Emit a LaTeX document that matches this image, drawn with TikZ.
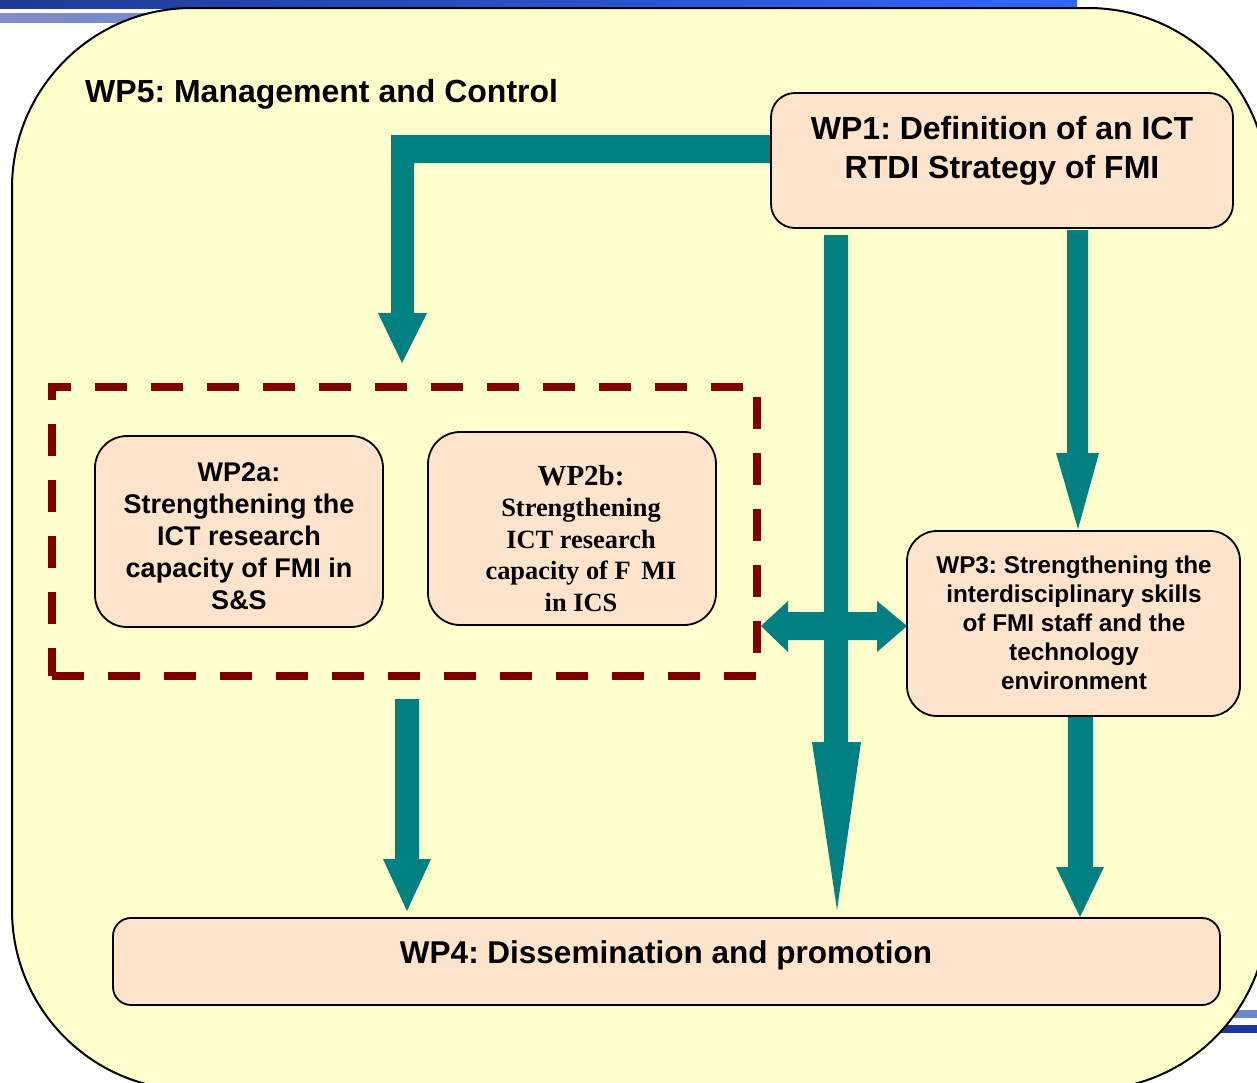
\documentclass[tikz,border=0pt]{standalone}
\usepackage{fontspec}
\setmainfont{Liberation Sans}
\newfontfamily\serifbf{Liberation Serif}
\definecolor{bgyellow}{HTML}{FFFFCC}
\definecolor{boxfill}{HTML}{FFE4CC}
\definecolor{dashred}{HTML}{800000}
\definecolor{arrowteal}{HTML}{008080}
\definecolor{bardark}{HTML}{1F3A93}
\definecolor{barbright}{HTML}{3366FF}
\definecolor{barlight}{HTML}{7F8FC4}
\definecolor{barlighttwo}{HTML}{6F86CC}
\frenchspacing
\begin{document}
\begin{tikzpicture}[x=1pt,y=-1pt,
  wpbox/.style={draw=black, line width=1.8pt, fill=boxfill, rounded corners=#1, inner sep=0pt},
  wptext/.style={inner sep=0pt, align=center, text=black},
  fatarrow/.style={fill=arrowteal, draw=none}]
\useasboundingbox (0,0) rectangle (1257,1082);
\clip (0,0) rectangle (1257,1082);
\fill[white] (0,0) rectangle (1257,1082);
% decorative bars
\shade[left color=bardark, right color=barbright] (0,0) rectangle (1077,8);
\shade[left color=barlight, right color=barlighttwo] (0,13) rectangle (220,22);
\fill[barlighttwo] (1220,1010) rectangle (1257,1018);
\fill[bardark!90!blue] (1215,1025) rectangle (1257,1033);
% WP5 frame
\draw[fill=bgyellow, line width=2pt, rounded corners=180pt] (12,8) rectangle (1268,1090);
\node[wptext, anchor=base west, font=\bfseries\fontsize{32}{38}\selectfont] (wp5) at (85,102) {WP5: Management and Control};
% dashed group
\node[draw=dashred, line width=8pt, dash pattern=on 32pt off 24pt, minimum width=705pt, minimum height=289pt, inner sep=0pt] (wp2grp) at (404.5,531.5) {};
% arrows
\fill[fatarrow] (771,135) -- (391,135) -- (391,313) -- (378,313) -- (402,363) -- (427,313) -- (414,313) -- (414,163) -- (771,163) -- cycle;
\fill[fatarrow] (824,235) -- (824,742) -- (812,742) -- (837,910) -- (861,742) -- (848,742) -- (848,235) -- cycle;
\fill[fatarrow] (1067,230) -- (1067,453) -- (1056,453) -- (1078,529) -- (1099,453) -- (1088,453) -- (1088,230) -- cycle;
\fill[fatarrow] (761,626) -- (788,601) -- (788,612) -- (877,612) -- (877,601) -- (907,626) -- (877,652) -- (877,640) -- (788,640) -- (788,652) -- cycle;
\fill[fatarrow] (395,699) -- (395,859) -- (383,859) -- (407,911) -- (431,859) -- (419,859) -- (419,699) -- cycle;
\fill[fatarrow] (1068,714) -- (1068,867) -- (1056,867) -- (1080,917) -- (1104,867) -- (1093,867) -- (1093,714) -- cycle;
% boxes
\node[wpbox=24pt, minimum width=462pt, minimum height=135pt] (wp1) at (1002,160.5) {};
\node[wpbox=32pt, minimum width=288pt, minimum height=191pt] (wp2a) at (239,531.5) {};
\node[wpbox=32pt, minimum width=288pt, minimum height=193pt] (wp2b) at (572,528.5) {};
\node[wpbox=30pt, minimum width=333pt, minimum height=185pt] (wp3) at (1073.5,623.5) {};
\node[wpbox=18pt, minimum width=1107pt, minimum height=87pt] (wp4) at (666.5,961.5) {};
% texts
\node[wptext, font=\bfseries\fontsize{32}{39}\selectfont] (wp1t) at (1002,151) {WP1: Definition of an ICT\\RTDI Strategy of FMI};
\node[wptext, font=\bfseries\fontsize{27}{32}\selectfont] (wp2at) at (239,536) {WP2a:\\Strengthening the\\ICT research\\capacity of FMI in\\S\&S};
\node[wptext, font=\serifbf\bfseries\fontsize{26.4}{31.5}\selectfont] (wp2bt) at (581,538.5) {{\fontsize{29}{31.5}\selectfont WP2b:}\\Strengthening\\ICT research\\capacity of F\hspace{0.4em}MI\\in ICS};
\node[wptext, font=\bfseries\fontsize{24.3}{29}\selectfont] (wp3t) at (1074,623) {WP3: Strengthening the\\interdisciplinary skills\\of FMI staff and the\\technology\\environment};
\node[wptext, anchor=base, font=\bfseries\fontsize{31.5}{38}\selectfont] (wp4t) at (666,963.5) {WP4: Dissemination and promotion};
\end{tikzpicture}
\end{document}
